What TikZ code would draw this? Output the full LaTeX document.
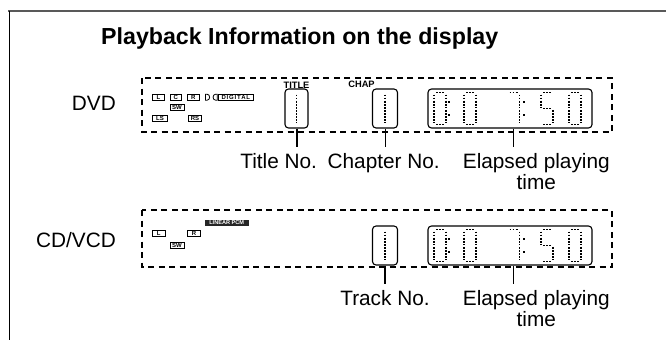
\documentclass[tikz,border=0pt]{standalone}
\usepackage{fontspec}
\setmainfont{Liberation Sans}
\begin{document}
\begin{tikzpicture}[x=1pt,y=-1pt,
  lbl/.style={font=\fontsize{20.8}{24}\selectfont, inner sep=0pt, anchor=base},
  numbox/.style={draw, rounded corners=3.5pt, line width=1.1pt, inner sep=0pt, minimum height=39pt},
  seg/.style={line width=1.8pt, dash pattern=on 1.8pt off 1.3pt},
  spk/.style={draw, line width=0.7pt, inner sep=0pt, minimum height=6pt, font=\fontsize{6}{6}\selectfont\bfseries},
  dbox/.style={line width=1.1pt, dash pattern=on 6pt off 4.5pt},
  tag/.style={font=\fontsize{9.3}{10}\selectfont\bfseries, inner sep=0pt, anchor=base},
  conn/.style={line width=1.1pt},
  dzero/.pic={\draw[seg] (2,0)--(10,0) (12,2)--(12,14.6) (12,17.4)--(12,30) (2,32)--(10,32) (0,17.4)--(0,30) (0,2)--(0,14.6);},
  dseven/.pic={\draw[seg] (2,0)--(10,0) (12,2)--(12,14.6) (12,17.4)--(12,30);},
  dfive/.pic={\draw[seg] (2,0)--(10,0) (0,2)--(0,14.6) (2,16)--(10,16) (12,17.4)--(12,30) (2,32)--(10,32);},
  dcolon/.pic={\fill (-0.9,8.6) rectangle (0.9,10.4); \fill (-0.9,21.6) rectangle (0.9,23.4);},
]
\useasboundingbox (0,0) rectangle (666,340);
% frame
\draw[line width=2pt, black!65] (8,11) -- (666,11);
\draw[line width=1.6pt] (9.3,11) -- (9.3,340);
\node[font=\fontsize{23.2}{27}\selectfont\bfseries, inner sep=0pt, anchor=base west] (title) at (101,44.5) {Playback Information on the display};

% ---------- DVD ----------
\draw[dbox] (142,78) rectangle (612,132);
\node[lbl, anchor=base east] (dvd) at (116,110.5) {DVD};
\node[spk, minimum width=11.6pt] (sL) at (158.5,97.2) {L};
\node[spk, minimum width=11.7pt] (sC) at (175.8,97.2) {C};
\node[spk, minimum width=12pt] (sR) at (193.3,97.2) {R};
\draw[line width=0.8pt] (205.5,94.2) -- (207,94.2) .. controls (210.5,94.2) and (210.5,100.2) .. (207,100.2) -- (205.5,100.2) -- cycle;
\draw[line width=0.8pt] (217.2,94.2) -- (215.7,94.2) .. controls (212.2,94.2) and (212.2,100.2) .. (215.7,100.2) -- (217.2,100.2) -- cycle;
\node[spk, minimum width=35pt] (sDig) at (235.8,97.2) {\addfontfeature{LetterSpace=14}DIGITAL};
\node[spk, minimum width=14pt] (sSW) at (177,107.2) {SW};
\node[spk, minimum width=14.6pt] (sLS) at (160,118) {LS};
\node[spk, minimum width=13.4pt] (sRS) at (195,118) {RS};

\node[numbox, minimum width=23pt] (tbox) at (296.5,108.5) {};
\node[tag] (ttag) at (296.5,88) {TITLE};
\node[numbox, minimum width=25pt] (cbox) at (385,108.5) {};
\node[tag] (ctag) at (361.5,87.5) {CHAP};
\node[numbox, minimum width=164pt] (tmbox) at (510,108.5) {};
\draw[seg] ([yshift=14pt]tbox.center) -- ([yshift=-14pt]tbox.center);
\draw[seg] ([yshift=14pt]cbox.center) -- ([yshift=-14pt]cbox.center);
\pic at (434,92.5) {dzero};
\pic at (449,92.5) {dcolon};
\pic at (464,92.5) {dzero};
\pic at (507.5,92.5) {dseven};
\pic at (524,92.5) {dcolon};
\pic at (541,92.5) {dfive};
\pic at (569,92.5) {dzero};

\node[lbl] (tlab) at (278.7,168.3) {Title No.};
\node[lbl] (clab) at (383.7,168.3) {Chapter No.};
\node[lbl] (elab) at (536.3,168.3) {Elapsed playing};
\node[lbl] (elab2) at (536.3,189.5) {time};
\draw[conn, shorten >=6pt] ([xshift=0.5pt]tbox.south) -- ([xshift=0.5pt]tbox.south |- tlab.north);
\draw[conn, shorten >=6pt] ([xshift=0.5pt]cbox.south) -- ([xshift=0.5pt]cbox.south |- clab.north);
\draw[conn, shorten >=6pt] ([xshift=3.5pt]tmbox.south) -- ([xshift=3.5pt]tmbox.south |- elab.north);

% ---------- CD/VCD ----------
\draw[dbox] (142,210) rectangle (612,267);
\node[lbl, anchor=base east] (cdv) at (116,247.5) {CD/VCD};
\node[spk, minimum width=12.3pt] (cL) at (158.8,233.3) {L};
\node[spk, minimum width=13.4pt] (cR) at (194,233.3) {R};
\node[spk, minimum width=14pt] (cSW) at (177,245) {SW};
\node[draw=black!85, fill=black!85, text=white, inner sep=0pt, minimum width=43.3pt, minimum height=5.2pt, font=\fontsize{5.6}{6}\selectfont\bfseries] (pcm) at (226.7,222.5) {LINEAR PCM};

\node[numbox, minimum width=25pt] (kbox) at (385,245.5) {};
\node[numbox, minimum width=164pt] (cmbox) at (510,245.5) {};
\draw[seg] ([yshift=14pt]kbox.center) -- ([yshift=-14pt]kbox.center);
\pic at (434,229.5) {dzero};
\pic at (449,229.5) {dcolon};
\pic at (464,229.5) {dzero};
\pic at (507.5,229.5) {dseven};
\pic at (524,229.5) {dcolon};
\pic at (541,229.5) {dfive};
\pic at (569,229.5) {dzero};

\node[lbl] (klab) at (385,305) {Track No.};
\node[lbl] (celab) at (536.3,305) {Elapsed playing};
\node[lbl] (celab2) at (536.3,326.5) {time};
\draw[conn, shorten >=6pt] (kbox.south) -- (kbox.south |- klab.north);
\draw[conn, shorten >=6pt] ([xshift=3.5pt]cmbox.south) -- ([xshift=3.5pt]cmbox.south |- celab.north);
\end{tikzpicture}
\end{document}
